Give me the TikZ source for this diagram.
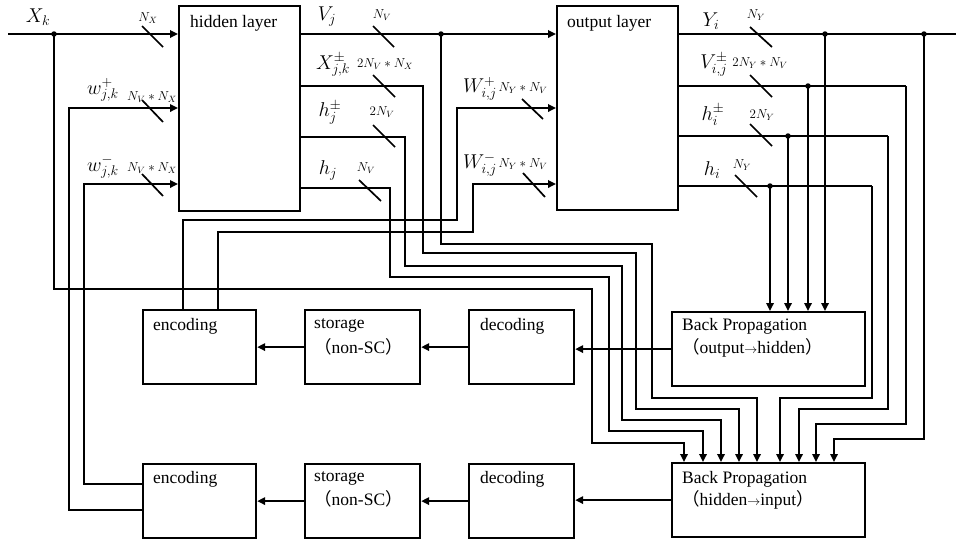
\RequirePackage{fix-cm}
\documentclass[tikz,border=0pt]{standalone}
\usepackage{fontspec}
\setmainfont{Liberation Serif}
\newfontfamily\cjk{Noto Sans CJK SC}
\newcommand{\toarrow}{{\fontsize{13}{14}\selectfont$\rightarrow$}}
\usetikzlibrary{arrows.meta}
\begin{document}
\begin{tikzpicture}[x=1pt,y=-1pt,
  box/.style={draw,line width=2.2pt,anchor=north west,inner sep=0pt},
  wire/.style={line width=1.7pt},
  arr/.style={wire,-{Triangle[length=8pt,width=7.5pt]}},
  jdot/.style={circle,fill,inner sep=0pt,minimum size=5.5pt},
  tick/.style={line width=1.7pt},
  ml/.style={font=\fontsize{20}{22}\selectfont,inner sep=0pt},
  sl/.style={font=\fontsize{13}{14}\selectfont,inner sep=0pt},
  txt/.style={font=\fontsize{17.5}{21}\selectfont,inner sep=0pt,anchor=west},
]
\useasboundingbox (0,0) rectangle (956,539);

% boxes
\node[box,minimum width=121pt,minimum height=205pt] (hidden) at (178,5) {};
\node[box,minimum width=121pt,minimum height=204pt] (output) at (556,5) {};
\node[box,minimum width=113pt,minimum height=74pt] (enc1) at (142,309) {};
\node[box,minimum width=115pt,minimum height=74pt] (sto1) at (304,309) {};
\node[box,minimum width=105pt,minimum height=74pt] (dec1) at (468,309) {};
\node[box,minimum width=193pt,minimum height=74pt] (bp1) at (671,311) {};
\node[box,minimum width=113pt,minimum height=74pt] (enc2) at (142,463) {};
\node[box,minimum width=115pt,minimum height=74pt] (sto2) at (304,463) {};
\node[box,minimum width=105pt,minimum height=74pt] (dec2) at (468,463) {};
\node[box,minimum width=193pt,minimum height=74pt] (bp2) at (671,462) {};

% box texts
\node[txt] (t1) at (190,23) {hidden layer};
\node[txt] (t2) at (567,23) {output layer};
\node[txt] (t3) at (153,326) {encoding};
\node[txt] (t4) at (314,325) {storage};
\node[txt] (t5) at (314,347) {{\cjk （}non-SC{\cjk ）}};
\node[txt] (t6) at (480,326) {decoding};
\node[txt] (t7) at (682,326) {Back Propagation};
\node[txt] (t8) at (682,348) {{\cjk （}output\toarrow hidden{\cjk ）}};
\node[txt] (t9) at (153,479) {encoding};
\node[txt] (t10) at (314,478) {storage};
\node[txt] (t11) at (314,499) {{\cjk （}non-SC{\cjk ）}};
\node[txt] (t12) at (480,479) {decoding};
\node[txt] (t13) at (682,479) {Back Propagation};
\node[txt] (t14) at (682,500) {{\cjk （}hidden\toarrow input{\cjk ）}};

% free ends and junctions
\coordinate (xin) at (8,34);
\coordinate (yout) at (956,34);
\node[jdot] (jX) at (54,34) {};
\node[jdot] (jV) at (441,34) {};
\node[jdot] (jY1) at (825,34) {};
\node[jdot] (jY2) at (924,34) {};
\node[jdot] (jVo) at (808,86) {};
\node[jdot] (jHo) at (788,136) {};
\node[jdot] (jho) at (770,186) {};

% inputs to hidden layer
\draw[arr] (xin) -- (xin -| hidden.west);
\draw[arr] (enc2.west |- 0,510) -- (69,510) -- (69,108) -- (hidden.west |- 0,108);
\draw[arr] (enc2.west |- 0,484) -- (84,484) -- (84,184) -- (hidden.west |- 0,184);
\draw[arr] (jX.center) -- (54,289) -- (592,289) -- (592,443) -- (684,443) -- (684,0 |- bp2.north);

% hidden layer outputs
\draw[arr] (hidden.east |- 0,34) -- (output.west |- 0,34);
\draw[arr] (jV.center) -- (441,244) -- (652,244) -- (652,398) -- (757,398) -- (757,0 |- bp2.north);
\draw[arr] (hidden.east |- 0,86) -- (423,86) -- (423,253) -- (636,253) -- (636,409) -- (739,409) -- (739,0 |- bp2.north);
\draw[arr] (hidden.east |- 0,137) -- (405,137) -- (405,266) -- (622,266) -- (622,420) -- (721,420) -- (721,0 |- bp2.north);
\draw[arr] (hidden.east |- 0,188) -- (390,188) -- (390,277) -- (609,277) -- (609,431) -- (703,431) -- (703,0 |- bp2.north);

% weights to output layer
\draw[arr] (enc1.north -| 183,0) -- (183,220) -- (457,220) -- (457,108) -- (output.west |- 0,108);
\draw[arr] (enc1.north -| 218,0) -- (218,232) -- (473,232) -- (473,184) -- (output.west |- 0,184);

% output layer outputs
\draw[wire] (output.east |- yout) -- (yout);
\draw[arr] (jY1.center) -- (jY1 |- bp1.north);
\draw[arr] (jY2.center) -- (924,439) -- (834,439) -- (834,0 |- bp2.north);
\draw[wire] (output.east |- jVo) -- (906,86);
\draw[arr] (jVo.center) -- (jVo |- bp1.north);
\draw[arr] (906,86) -- (906,424) -- (816,424) -- (816,0 |- bp2.north);
\draw[wire] (output.east |- jHo) -- (888,136);
\draw[arr] (jHo.center) -- (jHo |- bp1.north);
\draw[arr] (888,136) -- (888,409) -- (799,409) -- (799,0 |- bp2.north);
\draw[wire] (output.east |- jho) -- (872,186);
\draw[arr] (jho.center) -- (jho |- bp1.north);
\draw[arr] (872,186) -- (872,398) -- (780,398) -- (780,0 |- bp2.north);

% chains
\draw[arr] (bp1.west) -- (bp1.west -| dec1.east);
\draw[arr] (dec1.west) -- (dec1.west -| sto1.east);
\draw[arr] (sto1.west) -- (sto1.west -| enc1.east);
\draw[arr] (bp2.west) -- (bp2.west -| dec2.east);
\draw[arr] (dec2.west) -- (dec2.west -| sto2.east);
\draw[arr] (sto2.west) -- (sto2.west -| enc2.east);

% bus width ticks
\draw[tick] (142,26) -- (163,47);
\draw[tick] (142,100) -- (163,122);
\draw[tick] (142,174) -- (163,196);
\draw[tick] (373,26) -- (394,47);
\draw[tick] (373,75) -- (395,97);
\draw[tick] (373,125) -- (395,147);
\draw[tick] (359,180) -- (381,201);
\draw[tick] (522,99) -- (543,119);
\draw[tick] (523,173) -- (545,197);
\draw[tick] (750,27) -- (772,47);
\draw[tick] (750,75) -- (772,97);
\draw[tick] (750,124) -- (772,146);
\draw[tick] (735,175) -- (757,197);

% signal labels
\node[ml] (lXk) at (38,17) {$X_k$};
\node[ml] (lwp) at (103,90) {$w^{+}_{j,k}$};
\node[ml] (lwm) at (103,167) {$w^{-}_{j,k}$};
\node[ml] (lVj) at (327,17) {$V_j$};
\node[ml] (lXpm) at (333,65) {$X^{\pm}_{j,k}$};
\node[ml] (lhpm) at (330,113) {$h^{\pm}_{j}$};
\node[ml] (lhj) at (328,170) {$h_j$};
\node[ml] (lWp) at (480,89) {$W^{+}_{i,j}$};
\node[ml] (lWm) at (480,165) {$W^{-}_{i,j}$};
\node[ml] (lYi) at (711,21) {$Y_i$};
\node[ml] (lVpm) at (714,65) {$V^{\pm}_{i,j}$};
\node[ml] (lhipm) at (713,115) {$h^{\pm}_{i}$};
\node[ml] (lhi) at (712,170) {$h_i$};

% width labels
\node[sl] (nX) at (148,18) {$N_X$};
\node[sl] (nwp) at (152,97) {$N_V \ast N_X$};
\node[sl] (nwm) at (152,168) {$N_V \ast N_X$};
\node[sl] (nV) at (382,15) {$N_V$};
\node[sl] (nXpm) at (385,64) {$2N_V \ast N_X$};
\node[sl] (nhpm) at (382,112) {$2N_V$};
\node[sl] (nhj) at (366,168) {$N_V$};
\node[sl] (nWp) at (523,88) {$N_Y \ast N_V$};
\node[sl] (nWm) at (523,164) {$N_Y \ast N_V$};
\node[sl] (nY) at (756,15) {$N_Y$};
\node[sl] (nVpm) at (760,63) {$2N_Y \ast N_V$};
\node[sl] (nhipm) at (762,115) {$2N_Y$};
\node[sl] (nhi) at (742,165) {$N_Y$};
\end{tikzpicture}
\end{document}
